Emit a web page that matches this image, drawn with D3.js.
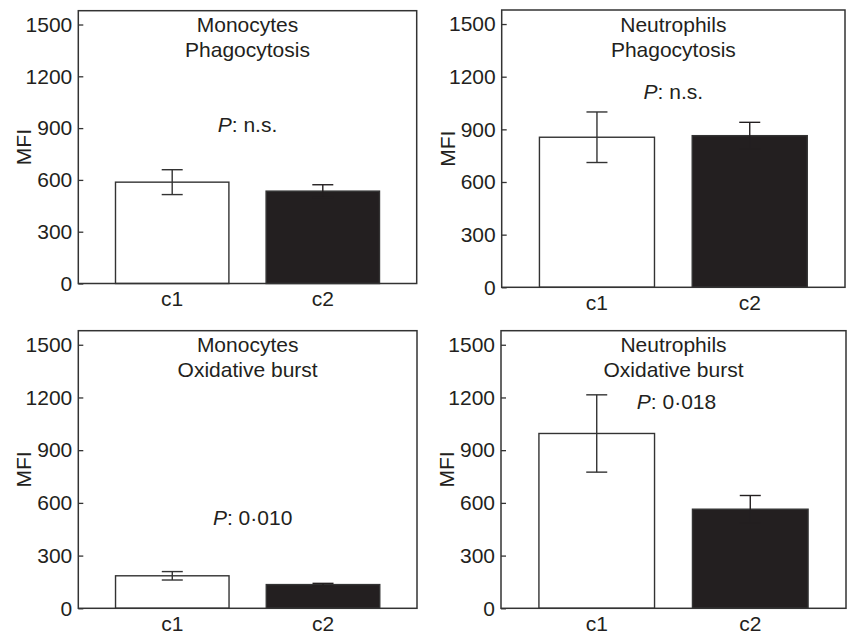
<!DOCTYPE html>
<html>
<head>
<meta charset="utf-8">
<script src="https://cdn.jsdelivr.net/npm/d3@7"></script>
<style>
  html, body { margin: 0; padding: 0; background: #fff; }
  svg { display: block; }
  text { font-family: "Liberation Sans", Arial, Helvetica, sans-serif; fill: #231f20; }
</style>
</head>
<body>
<svg id="chart" width="849" height="637"></svg>
<script>
// ---- datos ----
const cellTypes  = ['Monocytes', 'Neutrophils', 'Monocytes', 'Neutrophils'];
const assays     = ['Phagocytosis', 'Phagocytosis', 'Oxidative burst', 'Oxidative burst'];
const groups     = ['c1', 'c2'];
const meanValues = [[587, 535], [855, 864], [185, 135], [995, 564]];
const errValues  = [[72, 37], [144, 76], [24, 7], [220, 78]];
const pLabels    = ['n.s.', 'n.s.', '0\u00b7010', '0\u00b7018'];
const yTicks     = [0, 300, 600, 900, 1200, 1500];
const yMax       = 1580;

// ---- layout por panel (px) ----
const BOXES = [
  { x0: 78.3,  x1: 416.7, y0: 10.7,  y1: 283.5, pAt: 879,  pDx: 0 },
  { x0: 501.7, x1: 845,   y0: 10,    y1: 287.3, pAt: 1073, pDx: 0 },
  { x0: 78.3,  x1: 417,   y0: 330.7, y1: 608.3, pAt: 474,  pDx: 5 },
  { x0: 501,   x1: 846,   y0: 330.7, y1: 608.3, pAt: 1136, pDx: 3 },
];
const FONT = 21;
const INK = '#231f20';
const LINE = '#333';
const CAP_W = 21;

const svg = d3.select('#chart');

BOXES.forEach((b, i) => {
  const g = svg.append('g').attr('class', 'panel');

  const x = d3.scaleBand().domain(groups).range([b.x0, b.x1])
    .paddingInner(0.247).paddingOuter(0.247);
  const y = d3.scaleLinear().domain([0, yMax]).range([b.y1, b.y0]);
  const cx = (b.x0 + b.x1) / 2;

  const rows = groups.map((k, j) => ({ key: k, v: meanValues[i][j], e: errValues[i][j], j }));

  // barras
  g.selectAll('rect.bar').data(rows).join('rect')
    .attr('class', 'bar')
    .attr('x', d => x(d.key))
    .attr('width', x.bandwidth())
    .attr('y', d => y(d.v))
    .attr('height', d => y(0) - y(d.v))
    .attr('fill', d => d.j === 0 ? '#fff' : INK)
    .attr('stroke', LINE)
    .attr('stroke-width', 1.4);

  // barras de error (en la barra negra la parte de abajo no se ve)
  const eb = g.selectAll('g.err').data(rows).join('g').attr('class', 'err')
    .attr('stroke', d => d.j === 0 ? LINE : INK).attr('stroke-width', 1.4);
  const mid = d => x(d.key) + x.bandwidth() / 2;
  eb.append('line')
    .attr('x1', mid).attr('x2', mid)
    .attr('y1', d => y(d.v + d.e))
    .attr('y2', d => y(d.v - d.e));
  eb.append('line')
    .attr('x1', d => mid(d) - CAP_W / 2)
    .attr('x2', d => mid(d) + CAP_W / 2)
    .attr('y1', d => y(d.v + d.e)).attr('y2', d => y(d.v + d.e));
  eb.append('line')
    .attr('x1', d => mid(d) - CAP_W / 2)
    .attr('x2', d => mid(d) + CAP_W / 2)
    .attr('y1', d => y(d.v - d.e)).attr('y2', d => y(d.v - d.e));

  // marco
  g.append('rect')
    .attr('x', b.x0).attr('y', b.y0)
    .attr('width', b.x1 - b.x0).attr('height', b.y1 - b.y0)
    .attr('fill', 'none').attr('stroke', LINE).attr('stroke-width', 1.5);

  // eje Y (ticks hacia adentro)
  const ya = g.append('g')
    .attr('transform', `translate(${b.x0},0)`)
    .call(d3.axisLeft(y).tickValues(yTicks).tickFormat(d3.format('d'))
      .tickSizeInner(-5).tickSizeOuter(0).tickPadding(6));
  ya.select('.domain').remove();
  ya.selectAll('.tick line').attr('stroke', LINE).attr('stroke-width', 1.3);
  ya.selectAll('.tick text')
    .attr('font-size', FONT).attr('font-family', null).attr('fill', INK);

  // eje X (solo etiquetas)
  const xa = g.append('g')
    .attr('transform', `translate(0,${b.y1})`)
    .call(d3.axisBottom(x).tickSize(0).tickPadding(8));
  xa.select('.domain').remove();
  xa.selectAll('.tick text')
    .attr('font-size', FONT).attr('font-family', null).attr('fill', INK)
    .attr('dy', '0.71em');

  // título de eje
  g.append('text')
    .attr('transform', `translate(${b.x0 - 47},${(b.y0 + b.y1) / 2}) rotate(-90)`)
    .attr('text-anchor', 'middle')
    .attr('font-size', FONT)
    .text('MFI');

  // títulos del panel
  g.append('text')
    .attr('x', cx).attr('y', b.y0 + 21.5)
    .attr('text-anchor', 'middle').attr('font-size', FONT)
    .text(cellTypes[i]);
  g.append('text')
    .attr('x', cx).attr('y', b.y0 + 46.5)
    .attr('text-anchor', 'middle').attr('font-size', FONT)
    .text(assays[i]);

  // valor P
  const pt = g.append('text')
    .attr('x', cx + b.pDx).attr('y', y(b.pAt))
    .attr('text-anchor', 'middle').attr('font-size', FONT);
  pt.append('tspan').attr('font-style', 'italic').text('P');
  pt.append('tspan').text(': ' + pLabels[i]);
});
</script>
</body>
</html>
